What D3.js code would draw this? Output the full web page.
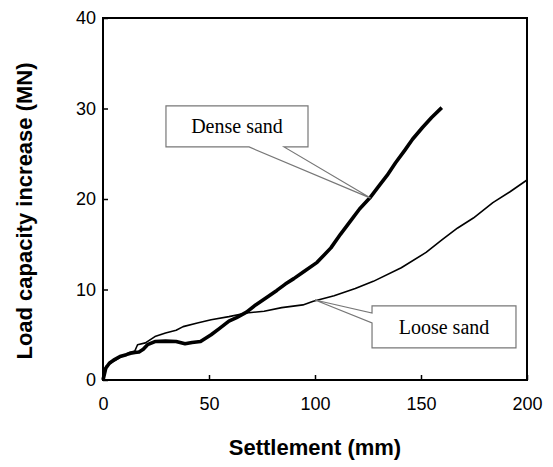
<!DOCTYPE html>
<html>
<head>
<meta charset="utf-8">
<script src="https://cdn.jsdelivr.net/npm/d3@7/dist/d3.min.js"></script>
<style>
  html, body { margin: 0; padding: 0; background: #fff; }
  svg { display: block; }
</style>
</head>
<body>
<svg id="chart" width="553" height="467"></svg>
<script>
// ---- Data ----
const xTicks = [0, 50, 100, 150, 200];
const yTicks = [0, 10, 20, 30, 40];
const seriesNames = ["Dense sand", "Loose sand"];

const denseX = [0, 1.3, 3, 5, 8, 11, 13, 15, 17, 19, 21, 24.5, 29.5, 34.5, 38.7, 42, 46, 51, 55, 59.4, 63, 67.7, 72, 77.7, 82, 86, 90, 94.3, 101, 107.5, 112, 117.5, 121, 125.8, 130, 134, 138, 142.4, 146, 150.7, 155, 159.8];
const denseY = [0, 1.3, 1.85, 2.2, 2.6, 2.8, 2.95, 3.05, 3.1, 3.4, 3.9, 4.25, 4.3, 4.25, 4.0, 4.15, 4.25, 5.0, 5.7, 6.5, 6.9, 7.5, 8.3, 9.2, 9.9, 10.6, 11.2, 11.9, 13.0, 14.6, 16.1, 17.8, 18.9, 20.1, 21.4, 22.6, 24.0, 25.4, 26.6, 27.9, 29.0, 30.1];

const looseX = [0, 1.3, 4.6, 8.8, 12, 15, 16.3, 20, 24.5, 29.5, 34.5, 37.8, 44.5, 51, 59.4, 67.7, 76, 84.3, 94.3, 99.2, 109, 119, 127.5, 140.7, 152.4, 160, 167.3, 174.7, 183.9, 192, 200];
const looseY = [0, 1.5, 2.0, 2.6, 3.0, 3.2, 3.9, 4.1, 4.8, 5.2, 5.5, 5.9, 6.3, 6.65, 7.0, 7.4, 7.6, 8.0, 8.3, 8.7, 9.3, 10.1, 10.9, 12.4, 14.1, 15.5, 16.8, 17.9, 19.6, 20.8, 22.1];

// ---- Layout ----
const svg = d3.select("#chart");
const margin = { left: 103, right: 26, top: 18, bottom: 87 };
const W = 553, H = 467;
const x = d3.scaleLinear().domain([0, 200]).range([margin.left, W - margin.right]);
const y = d3.scaleLinear().domain([0, 40]).range([H - margin.bottom, margin.top]);

// Callout annotations (data coordinates)
const callouts = [
  { text: seriesNames[0], box: [29.7, 96.7, 30.28, 25.75], anchor: [126.2, 20.1], side: "bottom", base: [68.9, 85.4] },
  { text: seriesNames[1], box: [126.9, 194.8, 8.18, 3.54], anchor: [100, 8.84], side: "left", base: [7.4, 6.3] }
];

const line = d3.line().x(d => x(d[0])).y(d => y(d[1]));
const dense = denseX.map((v, i) => [v, denseY[i]]);
const loose = looseX.map((v, i) => [v, looseY[i]]);

svg.append("path").datum(loose).attr("d", line)
  .attr("fill", "none").attr("stroke", "#000").attr("stroke-width", 1.6).attr("stroke-linejoin", "round");
svg.append("path").datum(dense).attr("d", line)
  .attr("fill", "none").attr("stroke", "#000").attr("stroke-width", 3.6).attr("stroke-linejoin", "round");

// Callouts
callouts.forEach(c => {
  const [x0, x1, y0, y1] = c.box;
  const X0 = x(x0), X1 = x(x1), Y0 = y(y0), Y1 = y(y1);
  const ax = x(c.anchor[0]), ay = y(c.anchor[1]);
  let pts;
  if (c.side === "bottom") {
    const b0 = x(c.base[0]), b1 = x(c.base[1]);
    pts = [[X0, Y0], [X1, Y0], [X1, Y1], [b1, Y1], [ax, ay], [b0, Y1], [X0, Y1]];
  } else {
    const b0 = y(c.base[0]), b1 = y(c.base[1]);
    pts = [[X0, Y0], [X1, Y0], [X1, Y1], [X0, Y1], [X0, b1], [ax, ay], [X0, b0]];
  }
  svg.append("path").attr("d", "M" + pts.map(p => p.join(",")).join("L") + "Z")
    .attr("fill", "#fff").attr("stroke", "#777").attr("stroke-width", 1.2);
  svg.append("text").attr("x", (X0 + X1) / 2).attr("y", (Y0 + Y1) / 2 + 7)
    .attr("text-anchor", "middle")
    .attr("font-family", "'Liberation Serif', 'Times New Roman', serif")
    .attr("font-size", 20).attr("fill", "#000").text(c.text);
});

// Frame
svg.append("rect").attr("x", x(0)).attr("y", y(40))
  .attr("width", x(200) - x(0)).attr("height", y(0) - y(40))
  .attr("fill", "none").attr("stroke", "#000").attr("stroke-width", 2);

// Axes (ticks inward)
const xAxis = svg.append("g").attr("transform", `translate(0,${y(0)})`)
  .call(d3.axisBottom(x).tickValues(xTicks).tickSizeInner(-5).tickSizeOuter(0).tickPadding(17));
const yAxis = svg.append("g").attr("transform", `translate(${x(0)},0)`)
  .call(d3.axisLeft(y).tickValues(yTicks).tickSizeInner(-5).tickSizeOuter(0).tickPadding(7));
[xAxis, yAxis].forEach(g => {
  g.select(".domain").remove();
  g.selectAll(".tick line").attr("stroke", "#000").attr("stroke-width", 1.5);
  g.selectAll(".tick text").attr("font-family", "'Liberation Sans', Arial, sans-serif")
    .attr("font-size", 18).attr("fill", "#000");
});

// Axis titles
svg.append("text").attr("x", (x(0) + x(200)) / 2).attr("y", 455)
  .attr("text-anchor", "middle").attr("font-family", "'Liberation Sans', Arial, sans-serif")
  .attr("font-weight", "bold").attr("font-size", 22).text("Settlement (mm)");
svg.append("text").attr("transform", `translate(32,${(y(0) + y(40)) / 2 + 12}) rotate(-90)`)
  .attr("text-anchor", "middle").attr("font-family", "'Liberation Sans', Arial, sans-serif")
  .attr("font-weight", "bold").attr("font-size", 22).text("Load capacity increase (MN)");
</script>
</body>
</html>
